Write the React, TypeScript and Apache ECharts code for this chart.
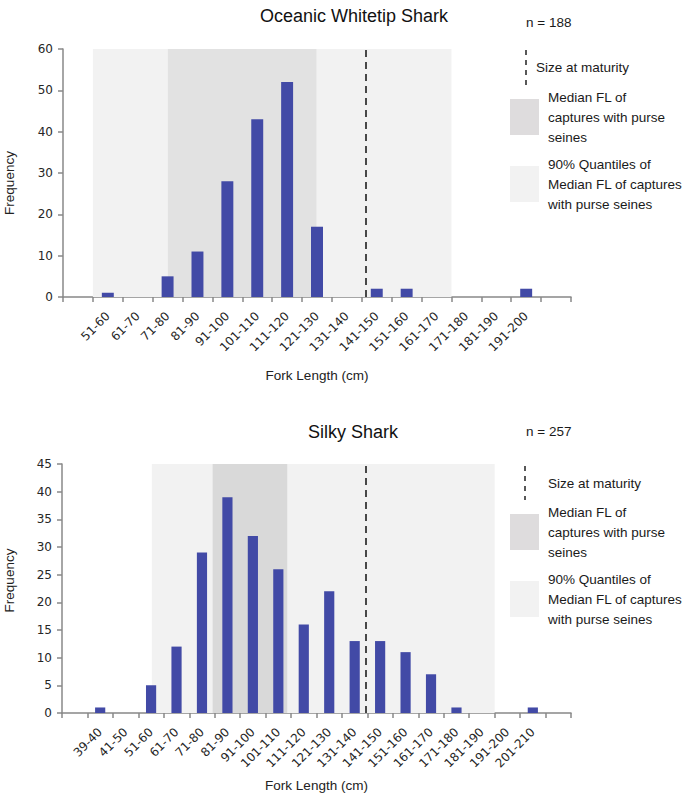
import React, { useEffect, useRef } from "react";
import * as echarts from "echarts";

// ---- Data ----
const topCategories = ["", "51-60", "61-70", "71-80", "81-90", "91-100", "101-110", "111-120", "121-130", "131-140", "141-150", "151-160", "161-170", "171-180", "181-190", "191-200", ""];
const topFrequency = [null, 1, 0, 5, 11, 28, 43, 52, 17, 0, 2, 2, 0, 0, 0, 2, null];
// band limits in category-index units (0 = left edge of the axis)
const topQuantileRange = [1.0, 13.0];
const topMedianRange = [3.51, 8.48];
const topMaturity = 10.13;

const bottomCategories = ["", "39-40", "41-50", "51-60", "61-70", "71-80", "81-90", "91-100", "101-110", "111-120", "121-130", "131-140", "141-150", "151-160", "161-170", "171-180", "181-190", "191-200", "201-210", ""];
const bottomFrequency = [null, 1, 0, 5, 12, 29, 39, 32, 26, 16, 22, 13, 13, 11, 7, 1, 0, 0, 1, null];
const bottomQuantileRange = [3.53, 17.0];
const bottomMedianRange = [5.92, 8.85];
const bottomMaturity = 11.95;

const titles = ["Oceanic Whitetip Shark", "Silky Shark"];
const sampleSizes = ["n = 188", "n = 257"];
const legendTexts = ["Size at maturity", "Median FL of\ncaptures with purse\nseines", "90% Quantiles of\nMedian FL of captures\nwith purse seines"];

const SANS = "'Liberation Sans', Arial, sans-serif";
const TICKFONT = "'DejaVu Sans', Verdana, sans-serif";
const BAR = "#424AA6";
const LIGHT = "#F2F2F2";
const DARK_TOP = "#E2E2E2";
const DARK_BOTTOM = "#D9D9D9";
const AXIS = "#888888";

function xCat(gridIndex: number, data: string[]) {
  return {
    type: "category",
    gridIndex,
    data,
    boundaryGap: true,
    axisLine: { show: true, lineStyle: { color: AXIS, width: 1.5 } },
    axisTick: { show: true, length: 5, interval: 0, lineStyle: { color: AXIS, width: 1.5 } },
    axisLabel: { interval: 0, rotate: 45, margin: 17, fontFamily: TICKFONT, fontSize: 12, color: "#262626" },
    name: "Fork Length (cm)",
    nameLocation: "middle",
    nameGap: gridIndex === 0 ? 71 : 65,
    nameTextStyle: { fontFamily: SANS, fontSize: 13.5, color: "#222" },
  };
}

function xVal(gridIndex: number, max: number) {
  return { type: "value", gridIndex, min: 0, max, show: false, position: "top" };
}

function yAx(gridIndex: number, max: number, interval: number, gap: number, pad: number[]) {
  return {
    type: "value",
    gridIndex,
    min: 0,
    max,
    interval,
    splitLine: { show: false },
    axisLine: { show: true, lineStyle: { color: AXIS, width: 1.5 } },
    axisTick: { show: true, length: 5, lineStyle: { color: AXIS, width: 1.5 } },
    axisLabel: { margin: 10, fontFamily: TICKFONT, fontSize: 12, color: "#262626" },
    name: "Frequency",
    nameLocation: "middle",
    nameGap: gap,
    nameTextStyle: { fontFamily: SANS, fontSize: 13.5, color: "#222", padding: pad },
  };
}

function bandSeries(xAxisIndex: number, yAxisIndex: number, q: number[], m: number[], mat: number, dark: string) {
  return {
    type: "line",
    xAxisIndex,
    yAxisIndex,
    data: [],
    z: 1,
    silent: true,
    markArea: {
      silent: true,
      data: [
        [{ xAxis: q[0], itemStyle: { color: LIGHT } }, { xAxis: q[1] }],
        [{ xAxis: m[0], itemStyle: { color: dark } }, { xAxis: m[1] }],
      ],
    },
    markLine: {
      silent: true,
      symbol: ["none", "none"],
      label: { show: false },
      lineStyle: { type: [7, 5], color: "#111", width: 1.5 },
      data: [{ xAxis: mat }],
    },
  };
}

function legend(topY: number, dashX: number, sizeX: number, dashY: number[], darkColor: string, idx: number) {
  const t = { fontFamily: SANS, fontSize: 13.5, fill: "#1a1a1a", lineHeight: 20 };
  return [
    { type: "text", x: 526, y: topY, style: { ...t, text: sampleSizes[idx], verticalAlign: "middle" } },
    { type: "line", shape: { x1: dashX, y1: dashY[0], x2: dashX, y2: dashY[1] }, style: { stroke: "#222", lineWidth: 1.5, lineDash: [5, 5] } },
    { type: "text", x: sizeX, y: (dashY[0] + dashY[1]) / 2, style: { ...t, text: legendTexts[0], verticalAlign: "middle" } },
    { type: "rect", shape: { x: 510, y: dashY[1] + 14, width: 29, height: 36 }, style: { fill: darkColor } },
    { type: "text", x: 548, y: dashY[1] + 32, style: { ...t, text: legendTexts[1], verticalAlign: "middle" } },
    { type: "rect", shape: { x: 510, y: dashY[1] + 81, width: 29, height: 36 }, style: { fill: LIGHT } },
    { type: "text", x: 548, y: dashY[1] + 99, style: { ...t, text: legendTexts[2], verticalAlign: "middle" } },
  ];
}

export default function App() {
  const ref = useRef<HTMLDivElement>(null);
  useEffect(() => {
    if (!ref.current) return;
    const chart = echarts.init(ref.current, undefined, { renderer: "svg" });
    chart.setOption({
      animation: false,
      backgroundColor: "#ffffff",
      title: [
        { text: titles[0], left: 349, top: 2, textAlign: "center", textStyle: { fontFamily: SANS, fontSize: 18, fontWeight: "normal", color: "#111" } },
        { text: titles[1], left: 348, top: 418, textAlign: "center", textStyle: { fontFamily: SANS, fontSize: 18, fontWeight: "normal", color: "#111" } },
      ],
      grid: [
        { left: 63, top: 49, width: 508, height: 248, containLabel: false, outerBoundsMode: "none" },
        { left: 62, top: 464, width: 509, height: 249, containLabel: false, outerBoundsMode: "none" },
      ],
      xAxis: [xCat(0, topCategories), xVal(0, topCategories.length), xCat(1, bottomCategories), xVal(1, bottomCategories.length)],
      yAxis: [yAx(0, 60, 10, 47, [0, 20, 0, 0]), yAx(1, 45, 5, 46, [0, 0, 0, 16])],
      series: [
        bandSeries(1, 0, topQuantileRange, topMedianRange, topMaturity, DARK_TOP),
        { type: "bar", xAxisIndex: 0, yAxisIndex: 0, data: topFrequency, barWidth: "40%", z: 3, itemStyle: { color: BAR } },
        bandSeries(3, 1, bottomQuantileRange, bottomMedianRange, bottomMaturity, DARK_BOTTOM),
        { type: "bar", xAxisIndex: 2, yAxisIndex: 1, data: bottomFrequency, barWidth: "40%", z: 3, itemStyle: { color: BAR } },
      ],
      graphic: [
        ...legend(22, 526, 536, [50, 85], "#DEDCDD", 0),
        ...legend(431, 525, 548, [466, 500], "#DEDCDD", 1),
      ],
    });
    return () => chart.dispose();
  }, []);
  return <div ref={ref} style={{ position: "fixed", left: 0, top: 0, width: 685, height: 796 }} />;
}
